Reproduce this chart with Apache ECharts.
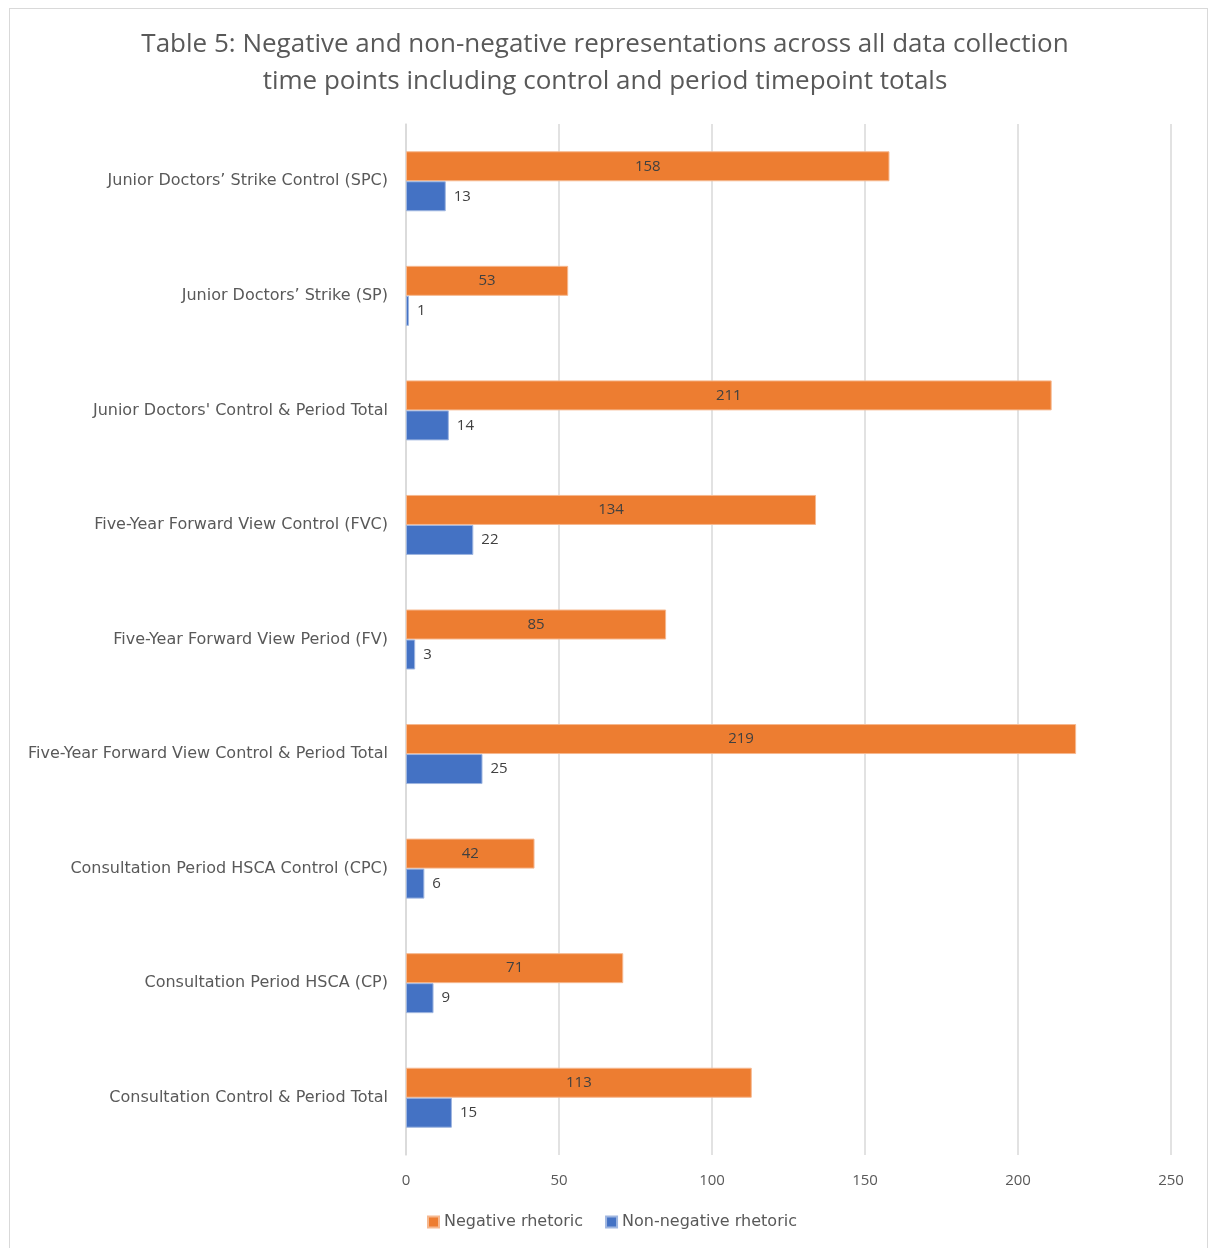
<!DOCTYPE html>
<html><head><meta charset="utf-8">
<script src="https://cdn.jsdelivr.net/npm/echarts@6/dist/echarts.min.js"></script>
<style>
html,body{margin:0;padding:0;background:#fff;}
#frame{position:absolute;left:9px;top:8px;width:1199px;height:1250px;border:1.5px solid #d9d9d9;box-sizing:border-box;}
#chart{position:absolute;left:0;top:0;width:1210px;height:1248px;}
</style></head>
<body>
<div id="frame"></div>
<div id="chart"></div>
<script>
const categories = [
  "Junior Doctors’ Strike Control (SPC)",
  "Junior Doctors’ Strike (SP)",
  "Junior Doctors' Control & Period Total",
  "Five-Year Forward View Control (FVC)",
  "Five-Year Forward View Period (FV)",
  "Five-Year Forward View Control & Period Total",
  "Consultation Period HSCA Control (CPC)",
  "Consultation Period HSCA (CP)",
  "Consultation Control & Period Total"
];
const negativeRhetoric = [158, 53, 211, 134, 85, 219, 42, 71, 113];
const nonNegativeRhetoric = [13, 1, 14, 22, 3, 25, 6, 9, 15];
const xTicks = [0, 50, 100, 150, 200, 250];

const chart = echarts.init(document.getElementById('chart'));
const font = "'Open Sans', 'Noto Sans', sans-serif";
const font2 = "'DejaVu Sans', 'Open Sans', sans-serif";
chart.setOption({
  animation: false,
  textStyle: {fontFamily: font},
  title: {
    text: "Table 5: Negative and non-negative representations across all data collection\ntime points including control and period timepoint totals",
    left: 'center', top: 21,
    textStyle: {fontSize: 26, fontWeight: 'normal', color: '#595959', lineHeight: 37, fontFamily: font}
  },
  legend: {
    bottom: 13, left: 422,
    itemWidth: 11, itemHeight: 11, itemGap: 22,
    icon: 'rect',
    textStyle: {fontSize: 16, color: '#595959', fontFamily: font2},
    data: ['Negative rhetoric', 'Non-negative rhetoric']
  },
  grid: {left: 406, right: 39, top: 124, bottom: 93, containLabel: false},
  xAxis: {
    type: 'value', min: xTicks[0], max: xTicks[xTicks.length-1], interval: 50,
    axisLine: {show: false}, axisTick: {show: false},
    splitLine: {lineStyle: {color: '#d9d9d9', width: 1.5}},
    axisLabel: {fontSize: 15, color: '#595959', margin: 18}
  },
  yAxis: {
    type: 'category', data: categories, inverse: true,
    axisLine: {show: true, lineStyle: {color: '#d9d9d9', width: 1.5}},
    axisTick: {show: false},
    axisLabel: {fontSize: 16, color: '#595959', margin: 18, fontFamily: font2}
  },
  series: [
    {
      name: 'Negative rhetoric', type: 'bar', data: negativeRhetoric,
      barWidth: 30, barGap: '0%',
      itemStyle: {color: '#ED7D31', borderColor: '#f6b88f', borderWidth: 1},
      label: {show: true, position: 'inside', color: '#404040', fontSize: 15}
    },
    {
      name: 'Non-negative rhetoric', type: 'bar', data: nonNegativeRhetoric,
      barWidth: 30, barGap: '0%',
      itemStyle: {color: '#4472C4', borderColor: '#9fb6e0', borderWidth: 1},
      label: {show: true, position: 'right', color: '#404040', fontSize: 15, distance: 8}
    }
  ]
});
</script>
</body></html>
